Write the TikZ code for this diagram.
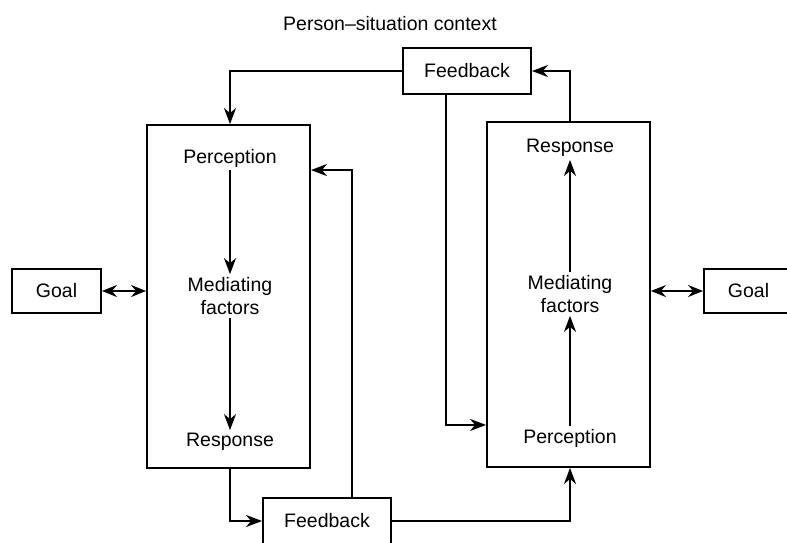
\documentclass[tikz,border=0pt]{standalone}
\usepackage{fontspec}
\setmainfont{Liberation Sans}
\usetikzlibrary{arrows.meta,calc}
\begin{document}
\begin{tikzpicture}[x=1pt,y=-1pt,
  every node/.style={font=\fontsize{19.5}{23}\selectfont},
  box/.style={draw,line width=1.9pt,inner sep=0pt},
  lbl/.style={inner sep=3pt,align=center},
  tip/.style={-{Stealth[length=16pt,width=12pt,inset=5pt]}},
  conn/.style={line width=1.8pt,tip},
  thinar/.style={line width=1.1pt,tip},
  thickar/.style={line width=2pt,tip},
  dbl/.style={line width=1.8pt,{Stealth[length=15pt,width=12pt,inset=5pt]}-{Stealth[length=15pt,width=12pt,inset=5pt]}}]
\clip (0,0) rectangle (787,542);
\fill[white] (0,0) rectangle (787,542);
% title
\node (title) at (390,24) {Person--situation context};
% boxes
\node[box,minimum width=128pt,minimum height=46pt] (tfb) at (467,71) {Feedback};
\node[box,minimum width=128pt,minimum height=46pt] (bfb) at (327,521) {Feedback};
\node[box,minimum width=163pt,minimum height=343pt] (lbox) at (228.5,296.5) {};
\node[box,minimum width=163pt,minimum height=345pt] (rbox) at (568.5,294.5) {};
\node[box,minimum width=89pt,minimum height=44pt] (lgoal) at (56.5,291) {Goal};
\node[box,minimum width=89pt,minimum height=44pt] (rgoal) at (748.5,291) {Goal};
% inner labels left
\node[lbl] (lPerc) at (230,158) {Perception};
\node[lbl] (lMed) at (230,296) {Mediating\\factors};
\node[lbl] (lResp) at (230,442) {Response};
% inner labels right
\node[lbl] (rResp) at (570,148) {Response};
\node[lbl] (rMed) at (570,294) {Mediating\\factors};
\node[lbl] (rPerc) at (570,438) {Perception};
% inner arrows
\draw[thickar] (lPerc.south) -- (lMed.north);
\draw[thinar] (lMed.south) -- (lResp.north);
\draw[thinar] (rMed.north) -- (rResp.south);
\draw[thickar] (rPerc.north) -- (rMed.south);
% goal arrows
\draw[dbl] (lgoal.east) -- (lgoal.east -| lbox.west);
\draw[dbl] (rgoal.west -| rbox.east) -- (rgoal.west);
% feedback loops
\draw[conn] (tfb.west) -| (lPerc |- lbox.north);
\draw[conn] (rResp |- rbox.north) |- (tfb.east);
\draw[conn] ($(tfb.south)+(-21,0)$) |- ($(rbox.south west)+(0,-43)$);
\draw[conn] (lResp |- lbox.south) |- (bfb.west);
\draw[conn] ($(bfb.north)+(25,0)$) |- ($(lbox.north east)+(0,46)$);
\draw[conn] (bfb.east) -| (rPerc |- rbox.south);
\end{tikzpicture}
\end{document}
